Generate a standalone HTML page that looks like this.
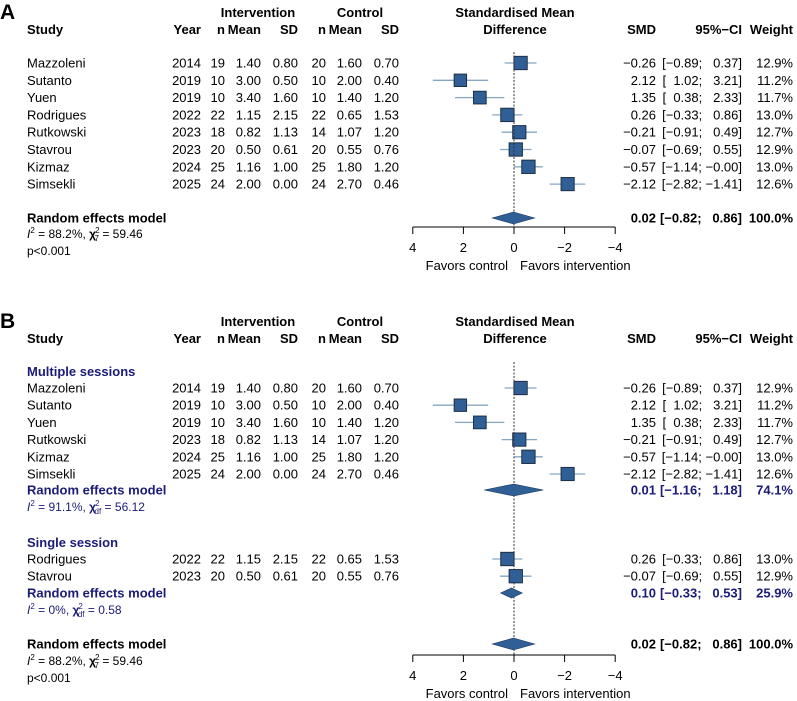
<!DOCTYPE html>
<html><head><meta charset="utf-8"><style>
html,body{margin:0;padding:0;background:#fff}
svg{display:block;font-family:"Liberation Sans",Arial,sans-serif}
</style></head><body>
<svg id="chart" width="797" height="701" viewBox="0 0 797 701" xmlns="http://www.w3.org/2000/svg"></svg>
<script>
const studies=["Mazzoleni","Sutanto","Yuen","Rodrigues","Rutkowski","Stavrou","Kizmaz","Simsekli"];
const years=["2014","2019","2019","2022","2023","2023","2024","2025"];
const nInt=["19","10","10","22","18","20","25","24"];
const meanInt=["1.40","3.00","3.40","1.15","0.82","0.50","1.16","2.00"];
const sdInt=["0.80","0.50","1.60","2.15","1.13","0.61","1.00","0.00"];
const nCtl=["20","10","10","22","14","20","25","24"];
const meanCtl=["1.60","2.00","1.40","0.65","1.07","0.55","1.80","2.70"];
const sdCtl=["0.70","0.40","1.20","1.53","1.20","0.76","1.20","0.46"];
const smd=[-0.26,2.12,1.35,0.26,-0.21,-0.07,-0.57,-2.12];
const ciLo=[-0.89,1.02,0.38,-0.33,-0.91,-0.69,-1.14,-2.82];
const ciHi=[0.37,3.21,2.33,0.86,0.49,0.55,-0.00,-1.41];
const weights=[12.9,11.2,11.7,13.0,12.7,12.9,13.0,12.6];
const multiIdx=[0,1,2,4,6,7];
const singleIdx=[3,5];
const pooledSmd=[0.02,0.01,0.10];
const pooledLo=[-0.82,-1.16,-0.33];
const pooledHi=[0.86,1.18,0.53];
const pooledW=[100.0,74.1,25.9];
const axisTicks=[4,2,0,-2,-4];

const svg=document.getElementById('chart');
const NS="http://www.w3.org/2000/svg";
const X0=514, UNIT=25.3, FS=13;
function xs(v){return X0 - v*UNIT;}
const BLUE="#2F5F95", LBLUE="#86A7C6", NAVY="#1B1B78";
function el(tag,attrs,parent){const e=document.createElementNS(NS,tag);for(const k in attrs)e.setAttribute(k,attrs[k]);(parent||svg).appendChild(e);return e;}
function txt(x,y,s,anchor,bold,color,size){const t=el('text',{x:x,y:y,'font-size':size||FS,'text-anchor':anchor||'start',fill:color||'#000'});if(bold)t.setAttribute('font-weight','bold');t.textContent=s;return t;}
function f2(v){const s=Math.abs(v).toFixed(2);return (v<0||Object.is(v,-0)?'\u2212':'')+s;}
function ciStr(i){return '['+(ciLo[i]<0?'\u2212':'\u2007')+Math.abs(ciLo[i]).toFixed(2)+'; '+(ciHi[i]<0||Object.is(ciHi[i],-0)||i===6?'\u2212':'\u2007')+Math.abs(ciHi[i]).toFixed(2)+']';}
function pciStr(k){return '['+(pooledLo[k]<0?'\u2212':'\u2007')+Math.abs(pooledLo[k]).toFixed(2)+'; '+(pooledHi[k]<0?'\u2212':'\u2007')+Math.abs(pooledHi[k]).toFixed(2)+']';}

function header(yTop,label){
  const L=txt(0,yTop+6,label,'start',true,'#000',21);
  
  
  const y1=yTop+4,y2=yTop+21;
  txt(258,y1,'Intervention','middle',true);
  txt(360,y1,'Control','middle',true);
  txt(515,y1,'Standardised Mean','middle',true);
  txt(27,y2,'Study','start',true);
  txt(201,y2,'Year','end',true);
  txt(225,y2,'n','end',true);
  txt(261,y2,'Mean','end',true);
  txt(298,y2,'SD','end',true);
  txt(326,y2,'n','end',true);
  txt(362,y2,'Mean','end',true);
  txt(399,y2,'SD','end',true);
  txt(515,y2,'Difference','middle',true);
  txt(656,y2,'SMD','end',true);
  txt(742,y2,'95%\u2212CI','end',true);
  txt(793,y2,'Weight','end',true);
}
function studyRow(i,y){
  const g=el('g',{});
  
  
  const b=y+4.5;
  const cols=[[27,studies[i],'start'],[201,years[i],'end'],[225,nInt[i],'end'],[261,meanInt[i],'end'],[298,sdInt[i],'end'],[326,nCtl[i],'end'],[362,meanCtl[i],'end'],[399,sdCtl[i],'end'],[656,f2(smd[i]),'end'],[742,ciStr(i),'end'],[793,weights[i].toFixed(1)+'%','end']];
  cols.forEach(c=>{const t=txt(c[0],b,c[1],c[2]);g.appendChild(t);});
  const ln=el('line',{x1:xs(ciLo[i]),x2:xs(ciHi[i]),y1:y,y2:y,stroke:LBLUE,'stroke-width':1.3},g);
  
  
  const s=3.7*Math.sqrt(weights[i]);
  const r=el('rect',{x:xs(smd[i])-s/2,y:y-s/2,width:s,height:s,fill:BLUE,stroke:'#1c2f48','stroke-width':1},g);
  
  
}
function diamond(k,y,h,color,label){
  const d=el('polygon',{points:[xs(pooledLo[k])+','+y,xs(pooledSmd[k])+','+(y-h),xs(pooledHi[k])+','+y,xs(pooledSmd[k])+','+(y+h)].join(' '),fill:BLUE,stroke:'#1c3a5e','stroke-width':0.6});
  
  
  const b=y+4.5;
  txt(27,b,label,'start',true,color);
  txt(656,b,f2(pooledSmd[k]),'end',true,color);
  txt(742,b,pciStr(k),'end',true,color);
  txt(793,b,pooledW[k].toFixed(1)+'%','end',true,color);
}
function hetero(y,i2,sub,chi,color){
  const t=el('text',{x:27,y:y,'font-size':12,fill:color});
  const a=el('tspan',{'font-style':'italic'},t);a.textContent='I';
  const b=el('tspan',{dy:-5,'font-size':8},t);b.textContent='2';
  const c=el('tspan',{dy:5},t);c.textContent=' = '+i2+', ';
  const d=el('tspan',{'font-weight':'bold'},t);d.textContent='\u03c7';
  const e=el('tspan',{dy:-5,'font-size':8,dx:-1},t);e.textContent='2';
  const f=el('tspan',{dy:8,'font-size':8,dx:-5},t);f.textContent=sub;
  const g=el('tspan',{dy:-3},t);g.textContent=' = '+chi;
  
  
}
function axis(y,yTop){
  const v=el('line',{x1:X0,x2:X0,y1:yTop,y2:y,stroke:'#333','stroke-width':1,'stroke-dasharray':'2,1.5'});
  
  
  const a=el('line',{x1:xs(axisTicks[0]),x2:xs(axisTicks[axisTicks.length-1]),y1:y,y2:y,stroke:'#000','stroke-width':1});
  
  
  axisTicks.forEach(t=>{
    el('line',{x1:xs(t),x2:xs(t),y1:y,y2:y+7,stroke:'#000','stroke-width':1});
    const l=txt(xs(t),y+25,t<0?'\u2212'+Math.abs(t):String(t),'middle');
    
    
  });
  txt(X0-6,y+43,'Favors control','end');
  txt(X0+6,y+43,'Favors intervention','start');
}

// Panel A
header(13,'A');
const allRowsA=[0,1,2,3,4,5,6,7];
allRowsA.forEach((i,k)=>studyRow(i,63+k*17.3));
axis(227,52);
diamond(0,218,6,'#000','Random effects model');
hetero(238,'88.2%','7','59.46','#000');
txt(27,255,'p<0.001','start',false,'#000',12);

// Panel B
header(322,'B');
txt(27,376,'Multiple sessions','start',true,NAVY);
multiIdx.forEach((i,k)=>studyRow(i,388+k*17.2));
axis(655,362);
diamond(1,490,6,NAVY,'Random effects model');
hetero(511,'91.1%','df','56.12',NAVY);
txt(27,547,'Single session','start',true,NAVY);
singleIdx.forEach((i,k)=>studyRow(i,559+k*17.2));
diamond(2,593,5,NAVY,'Random effects model');
hetero(614,'0%','df','0.58',NAVY);
diamond(0,644,6,'#000','Random effects model');
hetero(665,'88.2%','7','59.46','#000');
txt(27,682,'p<0.001','start',false,'#000',12);
</script>
</body></html>
